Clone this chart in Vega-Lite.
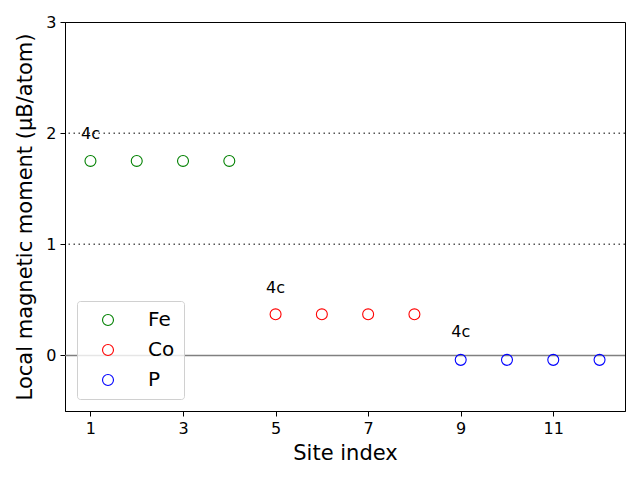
{
  "$schema": "https://vega.github.io/schema/vega-lite/v6.json",
  "autosize": "none",
  "width": 560,
  "height": 389,
  "padding": {"left": 65, "top": 22, "right": 15, "bottom": 69},
  "background": "white",
  "config": {
    "view": {"stroke": "black", "strokeWidth": 1},
    "font": "DejaVu Sans",
    "axis": {"grid": false, "domainColor": "black", "tickColor": "black", "labelColor": "black", "titleColor": "black", "labelFont": "DejaVu Sans", "titleFont": "DejaVu Sans", "labelFontSize": 16, "titleFontSize": 21, "titleFontWeight": "normal", "tickSize": 5, "labelPadding": 4}
  },
  "datasets": {
    "sites": [
      {"site": 1, "moment": 1.75, "element": "Fe"},
      {"site": 2, "moment": 1.75, "element": "Fe"},
      {"site": 3, "moment": 1.75, "element": "Fe"},
      {"site": 4, "moment": 1.75, "element": "Fe"},
      {"site": 5, "moment": 0.37, "element": "Co"},
      {"site": 6, "moment": 0.37, "element": "Co"},
      {"site": 7, "moment": 0.37, "element": "Co"},
      {"site": 8, "moment": 0.37, "element": "Co"},
      {"site": 9, "moment": -0.04, "element": "P"},
      {"site": 10, "moment": -0.04, "element": "P"},
      {"site": 11, "moment": -0.04, "element": "P"},
      {"site": 12, "moment": -0.04, "element": "P"}
    ],
    "labels": [
      {"site": 1, "y": 1.99, "label": "4c"},
      {"site": 5, "y": 0.61, "label": "4c"},
      {"site": 9, "y": 0.21, "label": "4c"}
    ],
    "dotted": [{"y": 1}, {"y": 2}],
    "zero": [{"y": 0}]
  },
  "layer": [
    {
      "data": {"name": "dotted"},
      "mark": {"type": "rule", "color": "#555555", "strokeDash": [1.5, 3.5], "strokeWidth": 1.5},
      "encoding": {"y": {"field": "y", "type": "quantitative", "scale": {"domain": [-0.5, 3]}}}
    },
    {
      "data": {"name": "zero"},
      "mark": {"type": "rule", "color": "#808080", "strokeWidth": 1.5},
      "encoding": {"y": {"field": "y", "type": "quantitative"}}
    },
    {
      "data": {"name": "sites"},
      "mark": {"type": "point", "shape": "circle", "filled": false, "size": 120, "strokeWidth": 1.1, "opacity": 1},
      "encoding": {
        "x": {"field": "site", "type": "quantitative", "scale": {"domain": [0.45, 12.55], "nice": false, "zero": false}, "axis": {"values": [1, 3, 5, 7, 9, 11], "format": "d", "title": "Site index", "titlePadding": 6}},
        "y": {"field": "moment", "type": "quantitative", "scale": {"domain": [-0.5, 3], "nice": false, "zero": false}, "axis": {"values": [0, 1, 2, 3], "format": "d", "title": "Local magnetic moment (μB/atom)", "titlePadding": 10}},
        "color": {
          "field": "element", "type": "nominal",
          "scale": {"domain": ["Fe", "Co", "P"], "range": ["green", "red", "blue"]},
          "legend": {"title": null, "orient": "none", "legendX": 12, "legendY": 279, "labelFontSize": 20, "labelFont": "DejaVu Sans", "symbolSize": 120, "symbolStrokeWidth": 1.1, "symbolType": "circle", "rowPadding": 10, "labelOffset": 30, "padding": 9, "strokeColor": "#d0d0d0", "fillColor": "rgba(255,255,255,0.8)", "cornerRadius": 3, "symbolOffset": 12}
        }
      }
    },
    {
      "data": {"name": "labels"},
      "mark": {"type": "text", "fontSize": 16, "color": "black", "align": "center", "baseline": "middle"},
      "encoding": {
        "x": {"field": "site", "type": "quantitative"},
        "y": {"field": "y", "type": "quantitative"},
        "text": {"field": "label"}
      }
    }
  ]
}
